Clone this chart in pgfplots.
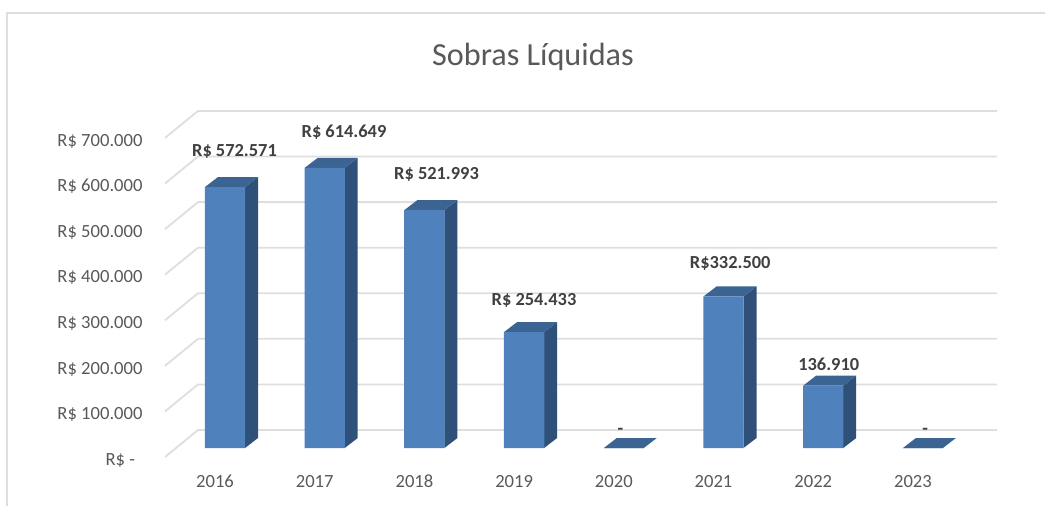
\documentclass[border=0pt]{standalone}
\usepackage{fontspec}
\setmainfont{Carlito}
\usepackage{pgfplots}
\pgfplotsset{compat=1.18}
\definecolor{front}{HTML}{4F81BD}
\definecolor{side}{HTML}{2F5079}
\definecolor{topf}{HTML}{3B6493}
\definecolor{gridc}{HTML}{DEDEDE}
\definecolor{txt}{HTML}{595959}
\definecolor{lab}{HTML}{404040}
\begin{document}
\begin{tikzpicture}[x=1pt,y=1pt]
\useasboundingbox (0,0) rectangle (1045,-506);
\draw[gridc, line width=1.4pt] (7,-506) -- (7,-13) -- (1045,-13);
\node[text=txt, font=\fontsize{32.2}{34}\selectfont, anchor=center] at (533,-57) {Sobras Líquidas};
\begin{axis}[
    at={(165pt,-466pt)}, anchor=south west,
    scale only axis,
    width=833pt, height=366pt,
    xmin=-0.6018, xmax=7.753,
    ymin=-39490, ymax=763500,
    clip=false,
    axis line style={draw=none},
    major tick length=0pt,
    scaled y ticks=false,
    xtick={-0.1,0.9,1.9,2.9,3.9,4.9,5.9,6.9},
    xticklabels={2016,2017,2018,2019,2020,2021,2022,2023},
    ytick={0,100000,200000,300000,400000,500000,600000,700000},
    yticklabels={R\$ -\rule{7.5pt}{0pt},R\$ 100.000,R\$ 200.000,R\$ 300.000,R\$ 400.000,R\$ 500.000,R\$ 600.000,R\$ 700.000},
    tick label style={font=\fontsize{18.6}{20}\selectfont, text=txt, text height=12pt, text depth=0pt},
    yticklabel style={anchor=east, xshift=-19pt, yshift=-11.3pt},
    xticklabel style={anchor=center, yshift=-15pt},
    nodes near coords style={anchor=center, yshift=-1pt, text height=12pt, text depth=2pt, font=\fontsize{18.4}{20}\selectfont\bfseries, text=lab},
]
% grid: front edge, back wall
\addplot[gridc, line width=1.8pt, forget plot] coordinates {(-0.6018,-19745) (-0.2708,39490) (7.745,39490)};
\addplot[gridc, line width=1.8pt, forget plot] coordinates {(-0.6018,80255) (-0.2708,139490) (7.745,139490)};
\addplot[gridc, line width=1.8pt, forget plot] coordinates {(-0.6018,180255) (-0.2708,239490) (7.745,239490)};
\addplot[gridc, line width=1.8pt, forget plot] coordinates {(-0.6018,280255) (-0.2708,339490) (7.745,339490)};
\addplot[gridc, line width=1.8pt, forget plot] coordinates {(-0.6018,380255) (-0.2708,439490) (7.745,439490)};
\addplot[gridc, line width=1.8pt, forget plot] coordinates {(-0.6018,480255) (-0.2708,539490) (7.745,539490)};
\addplot[gridc, line width=1.8pt, forget plot] coordinates {(-0.6018,580255) (-0.2708,639490) (7.745,639490)};
\addplot[gridc, line width=1.8pt, forget plot] coordinates {(-0.6018,680255) (-0.2708,739490) (7.745,739490)};
% side faces
\addplot[fill=side, draw=none, forget plot] coordinates {(0.2006,0) (0.331,21940) (0.331,594511) (0.2006,572571)} -- cycle;
\addplot[fill=side, draw=none, forget plot] coordinates {(1.2006,0) (1.331,21940) (1.331,636589) (1.2006,614649)} -- cycle;
\addplot[fill=side, draw=none, forget plot] coordinates {(2.2006,0) (2.331,21940) (2.331,543933) (2.2006,521993)} -- cycle;
\addplot[fill=side, draw=none, forget plot] coordinates {(3.2006,0) (3.331,21940) (3.331,276373) (3.2006,254433)} -- cycle;
\addplot[fill=side, draw=none, forget plot] coordinates {(5.2006,0) (5.331,21940) (5.331,354440) (5.2006,332500)} -- cycle;
\addplot[fill=side, draw=none, forget plot] coordinates {(6.2006,0) (6.331,21940) (6.331,158850) (6.2006,136910)} -- cycle;
% top faces
\addplot[fill=topf, draw=none, forget plot] coordinates {(-0.2006,572571) (0.2006,572571) (0.331,594511) (-0.0702,594511)} -- cycle;
\addplot[fill=topf, draw=none, forget plot] coordinates {(0.7994,614649) (1.2006,614649) (1.331,636589) (0.9298,636589)} -- cycle;
\addplot[fill=topf, draw=none, forget plot] coordinates {(1.7994,521993) (2.2006,521993) (2.331,543933) (1.9298,543933)} -- cycle;
\addplot[fill=topf, draw=none, forget plot] coordinates {(2.7994,254433) (3.2006,254433) (3.331,276373) (2.9298,276373)} -- cycle;
\addplot[fill=topf, draw=none, forget plot] coordinates {(3.7994,0) (4.2006,0) (4.331,21940) (3.9298,21940)} -- cycle;
\addplot[fill=topf, draw=none, forget plot] coordinates {(4.7994,332500) (5.2006,332500) (5.331,354440) (4.9298,354440)} -- cycle;
\addplot[fill=topf, draw=none, forget plot] coordinates {(5.7994,136910) (6.2006,136910) (6.331,158850) (5.9298,158850)} -- cycle;
\addplot[fill=topf, draw=none, forget plot] coordinates {(6.7994,0) (7.2006,0) (7.331,21940) (6.9298,21940)} -- cycle;
% front faces
\addplot[ybar, bar width=40.4pt, fill=front, draw=none, forget plot] coordinates {
    (0,572571) (1,614649) (2,521993) (3,254433) (4,0) (5,332500) (6,136910) (7,0)
};
% data labels
\addplot[draw=none, mark=none, nodes near coords, point meta=explicit symbolic, forget plot] coordinates {
    (0.0953,653800) [R\$ 572.571]
    (1.1936,693500) [R\$ 614.649]
    (2.1214,603300) [R\$ 521.993]
    (3.0993,326900) [R\$ 254.433]
    (3.9669,42700) [-]
    (5.0672,405900) [R\$332.500]
    (6.0552,183500) [136.910]
    (7.0230,42700) [-]
};
\end{axis}
\end{tikzpicture}
\end{document}
